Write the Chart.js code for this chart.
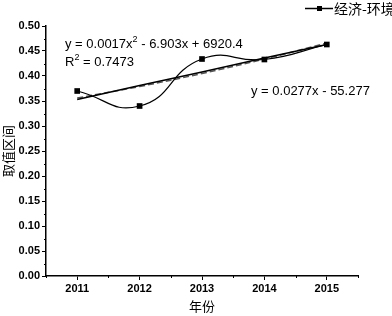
<!DOCTYPE html>
<html>
<head>
<meta charset="utf-8">
<script src="https://cdn.jsdelivr.net/npm/chart.js@4.4.0/dist/chart.umd.min.js"></script>
<style>
  html, body { margin: 0; padding: 0; background: #fff; }
  #wrap { width: 392px; height: 316px; }
</style>
</head>
<body>
<div id="wrap"><canvas id="chart" width="392" height="316"></canvas></div>
<script>
// --- DATOS ---
const years = [2011, 2012, 2013, 2014, 2015];
const economyEnv = [0.370, 0.340, 0.434, 0.433, 0.463];
const linearTrend = [0.353, 0.381, 0.408, 0.436, 0.463];
const quadTrend = [0.356, 0.379, 0.405, 0.434, 0.466];
const yTicks = [0, 0.05, 0.10, 0.15, 0.20, 0.25, 0.30, 0.35, 0.40, 0.45, 0.50];
const seriesName = '经济-环境';

const FONT = '"Liberation Sans", Arial, sans-serif';
const CJK = '"Noto Sans CJK SC", sans-serif';

const toPoints = vals => years.map((y, i) => ({ x: y, y: vals[i] }));

// ticks menores + textos de ecuaciones + leyenda
const extras = {
  id: 'extras',
  afterDraw(chart) {
    const ctx = chart.ctx;
    const xs = chart.scales.x, ys = chart.scales.y;
    ctx.save();
    ctx.strokeStyle = '#000';
    ctx.lineWidth = 1;
    // ticks menores
    ctx.beginPath();
    for (let v = 2010.5; v <= 2015.5; v += 1) {
      const px = Math.round(xs.getPixelForValue(v)) + 0.5;
      ctx.moveTo(px, xs.top); ctx.lineTo(px, xs.top + 2);
    }
    for (let v = 0.025; v < 0.5; v += 0.05) {
      const py = Math.round(ys.getPixelForValue(v)) + 0.5;
      ctx.moveTo(ys.right, py); ctx.lineTo(ys.right - 2, py);
    }
    ctx.stroke();

    // ecuaciones
    ctx.fillStyle = '#000';
    ctx.textBaseline = 'alphabetic';
    ctx.font = '13px ' + FONT;
    let x = 65, y = 48;
    ctx.fillText('y = 0.0017x', x, y);
    x += ctx.measureText('y = 0.0017x').width;
    ctx.font = '9px ' + FONT;
    ctx.fillText('2', x, y - 6);
    x += ctx.measureText('2').width;
    ctx.font = '13px ' + FONT;
    ctx.fillText(' - 6.903x + 6920.4', x, y);

    x = 65; y = 66;
    ctx.fillText('R', x, y);
    x += ctx.measureText('R').width;
    ctx.font = '9px ' + FONT;
    ctx.fillText('2', x, y - 6);
    x += ctx.measureText('2').width;
    ctx.font = '13px ' + FONT;
    ctx.fillText(' = 0.7473', x, y);

    ctx.fillText('y = 0.0277x - 55.277', 251, 95);

    // leyenda
    ctx.lineWidth = 1.5;
    ctx.beginPath();
    ctx.moveTo(305, 8.5); ctx.lineTo(333, 8.5);
    ctx.stroke();
    ctx.fillRect(317, 6, 5, 5);
    ctx.font = '14px ' + CJK;
    ctx.textBaseline = 'middle';
    ctx.fillText(seriesName, 334, 9);
    ctx.restore();
  }
};

const ctx = document.getElementById('chart').getContext('2d');
const chart = new Chart(ctx, {
  type: 'line',
  data: {
    datasets: [
      {
        label: seriesName,
        data: toPoints(economyEnv),
        borderColor: '#000',
        backgroundColor: '#000',
        borderWidth: 1.2,
        tension: 0.5,
        pointStyle: 'rect',
        pointRadius: 4,
        pointBorderWidth: 0
      },
      {
        label: 'lineal',
        data: toPoints(linearTrend),
        borderColor: '#000',
        borderWidth: 1.5,
        pointRadius: 0,
        tension: 0
      },
      {
        label: 'cuadratica',
        data: toPoints(quadTrend),
        borderColor: '#555',
        borderWidth: 1.5,
        borderDash: [6, 3],
        pointRadius: 0,
        tension: 0.4
      }
    ]
  },
  options: {
    responsive: false,
    animation: false,
    layout: { padding: { top: 26, right: 34, left: 0, bottom: 0 } },
    plugins: {
      legend: { display: false },
      tooltip: { enabled: false }
    },
    scales: {
      x: {
        type: 'linear',
        min: 2010.5,
        max: 2015.5,
        afterBuildTicks: s => { s.ticks = years.map(v => ({ value: v })); },
        afterFit: s => { s.height = 40; },
        ticks: { color: '#000', font: { family: FONT, size: 11, weight: 'bold' }, padding: 2, maxRotation: 0, callback: v => String(v) },
        grid: { drawOnChartArea: false, drawTicks: true, tickLength: 4, color: '#000' },
        border: { display: true, color: '#000', width: 1.5 },
        title: { display: true, text: '年份', color: '#000', font: { family: CJK, size: 13 }, padding: { top: 0, bottom: 2 } }
      },
      y: {
        min: 0,
        max: 0.5,
        afterBuildTicks: s => { s.ticks = yTicks.map(v => ({ value: v })); },
        afterFit: s => { s.width = 46; },
        ticks: { color: '#000', font: { family: FONT, size: 11, weight: 'bold' }, padding: 2, callback: v => v.toFixed(2) },
        grid: { drawOnChartArea: false, drawTicks: true, tickLength: 4, color: '#000' },
        border: { display: true, color: '#000', width: 1.5 },
        title: { display: true, text: '取值区间', color: '#000', font: { family: CJK, size: 13 }, padding: { top: 0, bottom: 0 } }
      }
    }
  },
  plugins: [extras]
});
</script>
</body>
</html>
